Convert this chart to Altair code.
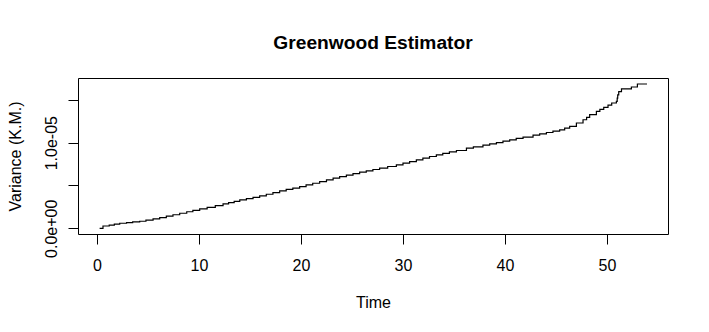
import altair as alt
import pandas as pd

# Step times (Time) and Greenwood variance (in units of 1e-6)
times = [0.26, 0.59, 1.2, 1.7, 2.23, 2.9, 3.5, 4.19, 4.8, 5.5, 6.15, 6.8, 7.45, 8.11,
         8.8, 9.4, 10.07, 10.8, 11.6, 12.36, 12.9, 13.45, 14.0, 14.65, 15.3, 15.95,
         16.6, 17.25, 17.91, 18.55, 19.2, 19.87, 20.5, 21.15, 21.83, 22.5, 23.15,
         23.79, 24.45, 25.1, 25.75, 26.4, 27.05, 27.71, 28.5, 29.35, 30.0, 30.65,
         31.31, 31.95, 32.6, 33.27, 33.9, 34.55, 35.24, 36.22, 36.9, 37.84, 38.5,
         39.16, 39.8, 40.46, 41.1, 41.77, 42.75, 43.4, 44.06, 44.7, 45.36, 45.85,
         46.34, 47.0, 47.65, 48.0, 48.3, 48.96, 49.3, 49.68, 50.1, 50.46, 50.92,
         51.0, 51.05, 51.15, 51.42, 52.39, 52.98, 53.92]
variance_e6 = [0.0, 0.27, 0.38, 0.48, 0.59, 0.66, 0.74, 0.82, 0.95, 1.10, 1.24, 1.41,
               1.58, 1.76, 1.93, 2.09, 2.26, 2.45, 2.65, 2.85, 3.00, 3.15, 3.31, 3.47,
               3.62, 3.78, 3.98, 4.17, 4.37, 4.54, 4.70, 4.87, 5.07, 5.26, 5.46, 5.65,
               5.85, 6.04, 6.21, 6.39, 6.56, 6.72, 6.87, 7.03, 7.22, 7.41, 7.61, 7.80,
               8.00, 8.19, 8.39, 8.58, 8.75, 8.92, 9.09, 9.37, 9.52, 9.72, 9.87, 10.02,
               10.18, 10.34, 10.50, 10.66, 10.89, 11.04, 11.19, 11.35, 11.51, 11.70,
               11.90, 12.30, 12.68, 12.95, 13.27, 13.65, 13.90, 14.12, 14.40, 14.64,
               14.82, 15.2, 15.6, 15.96, 16.28, 16.51, 16.86, 16.86]

x_ticks = [0, 10, 20, 30, 40, 50]
y_ticks = [0.0, 5e-6, 1e-5, 1.5e-5]

df = pd.DataFrame({"time": times, "var": [v * 1e-6 for v in variance_e6]})

FONT = "Liberation Sans"

chart = alt.Chart(df).mark_line(
    interpolate="step-after", color="black", strokeWidth=1.2
).encode(
    x=alt.X("time:Q",
            scale=alt.Scale(domain=[-1.86, 55.98], nice=False, zero=False),
            axis=alt.Axis(values=x_ticks, title="Time", grid=False, domain=False,
                          tickSize=10, tickColor="black", tickWidth=1,
                          labelFont=FONT, labelFontSize=16, labelColor="black",
                          labelPadding=13, labelFlush=False, labelOverlap=False,
                          titleFont=FONT, titleFontSize=16, titleFontWeight="normal",
                          titleColor="black", titleBaseline="alphabetic",
                          titleY=73)),
    y=alt.Y("var:Q",
            scale=alt.Scale(domain=[-0.667e-6, 1.756e-5], nice=False, zero=False),
            axis=alt.Axis(values=y_ticks, title="Variance (K.M.)", grid=False,
                          domain=False, tickSize=10, tickColor="black", tickWidth=1,
                          labelExpr="datum.value == 0 ? '0.0e+00' : (abs(datum.value - 1e-5) < 1e-9 ? '1.0e-05' : '')",
                          labelAngle=270, labelAlign="center", labelBaseline="alphabetic",
                          labelPadding=12, labelFont=FONT, labelFontSize=16,
                          labelColor="black", labelFlush=False, labelOverlap=False,
                          titleFont=FONT, titleFontSize=16, titleFontWeight="normal",
                          titleColor="black", titleAngle=270, titleAlign="center",
                          titleBaseline="alphabetic", titleX=-58, titleY=78)),
).properties(
    width=590,
    height=156,
    title=alt.TitleParams("Greenwood Estimator", font=FONT, fontSize=19.2,
                          fontWeight="bold", color="black", anchor="middle",
                          baseline="alphabetic", offset=10),
    padding={"left": 70, "top": 70, "right": 33, "bottom": 90},
    autosize=alt.AutoSizeParams(type="none"),
    background="white",
).configure_view(
    stroke="black", strokeWidth=1, fill="white", strokeOpacity=1
)

chart.save("out.html", embed_options={"renderer": "svg", "actions": False})
